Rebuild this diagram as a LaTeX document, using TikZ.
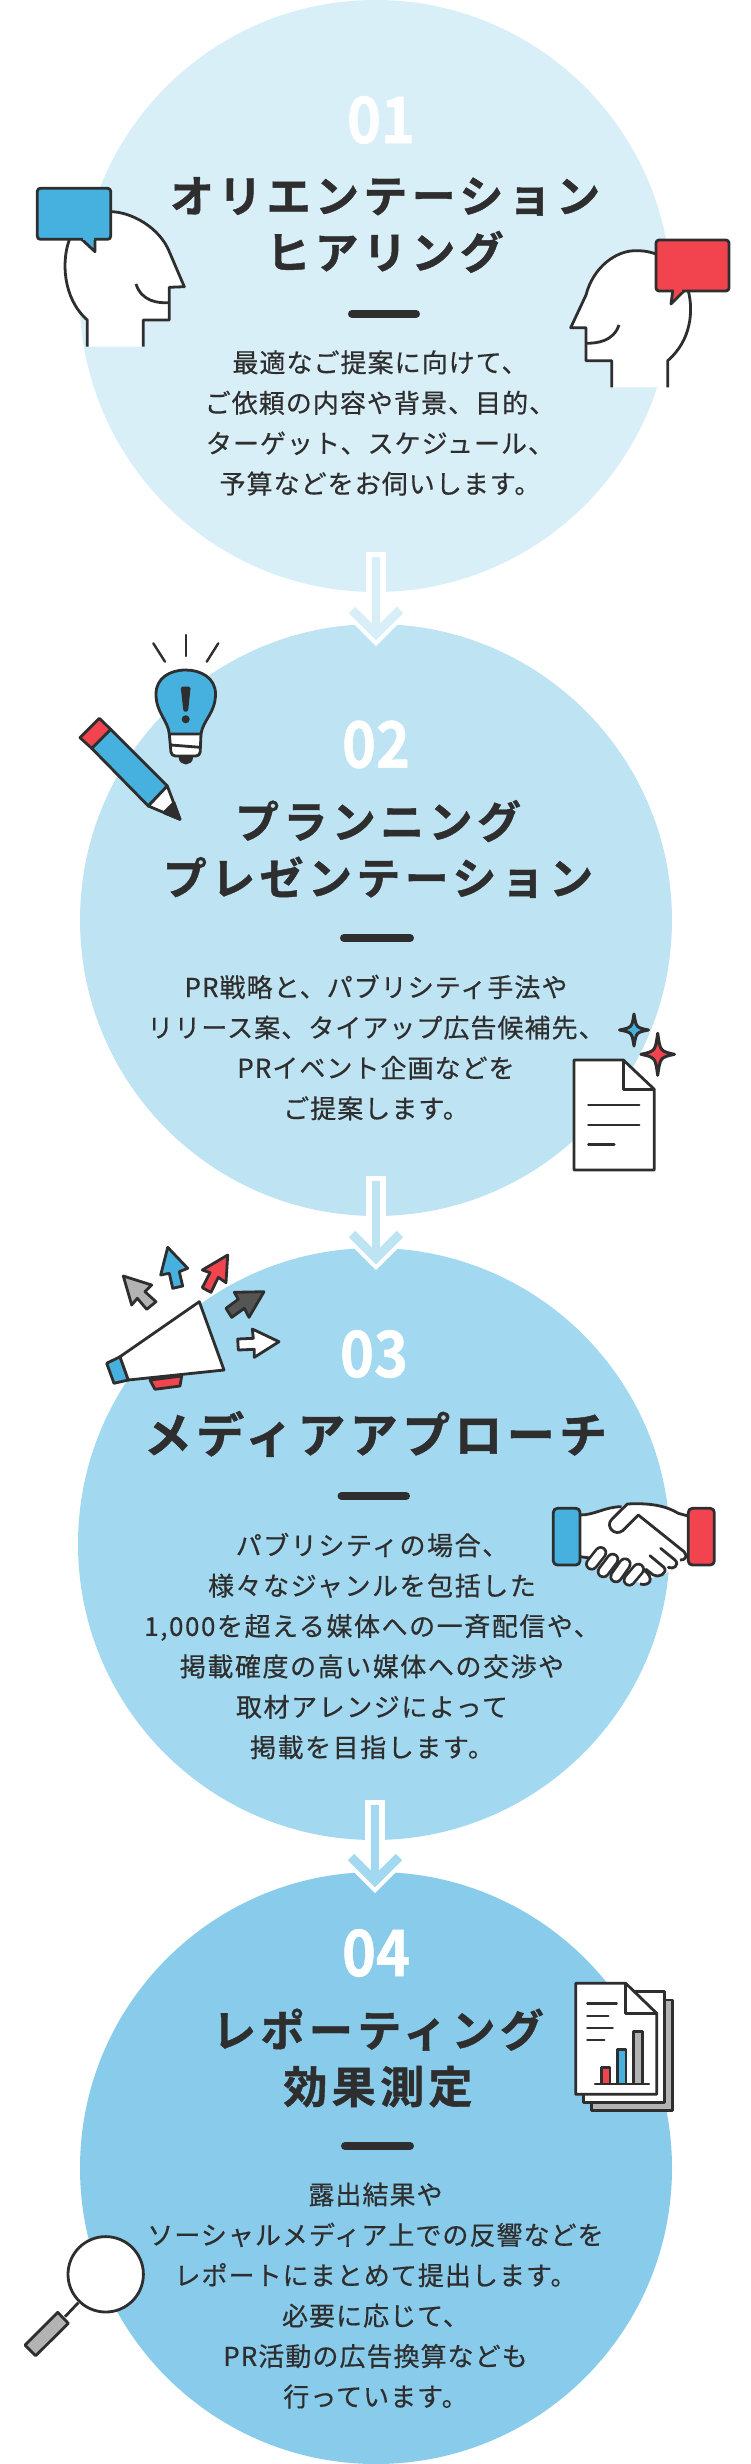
\documentclass[tikz,border=0pt]{standalone}
\usepackage{fontspec}
\setmainfont{Noto Sans CJK JP}
\newfontfamily\titlef[LetterSpace=10,FakeBold=1]{Noto Sans CJK JP Bold}
\newfontfamily\titlefb[LetterSpace=9,FakeBold=1]{Noto Sans CJK JP Bold}
\newfontfamily\bodyf[FakeBold=0.5,LetterSpace=4]{Noto Sans CJK JP}
\newfontfamily\bodyfb[FakeBold=0.5,LetterSpace=6]{Noto Sans CJK JP}
\newfontfamily\numf[FakeStretch=0.9,FakeBold=0.8]{Noto Sans CJK JP Bold}
\definecolor{ink}{HTML}{2E2E2E}
\definecolor{cA}{HTML}{D9EFF8}
\definecolor{cB}{HTML}{BEE3F3}
\definecolor{cC}{HTML}{A3D9F0}
\definecolor{cD}{HTML}{88CBEA}
\definecolor{blu}{HTML}{46B1DE}
\definecolor{rd}{HTML}{F1444F}
\definecolor{gry}{HTML}{B3B3B3}
\definecolor{dgr}{HTML}{555555}
\tikzset{
  x=1pt,y=-1pt,
  disc/.style={circle,minimum size=592pt,inner sep=0pt,outer sep=0pt},
  numtxt/.style={text=white,font=\numf\fontsize{64}{64}\selectfont,inner sep=0pt},
  titletxt/.style={text=ink,align=center,inner sep=0pt,font=\titlef\fontsize{44}{56.5}\selectfont},
  bodytxt/.style={text=ink,align=center,inner sep=0pt,font=\bodyf\fontsize{26}{40.4}\selectfont},
  barline/.style={line width=8pt,draw=ink,line cap=round},
  ln/.style={draw=ink,line width=2.8pt,line join=round,line cap=butt},
  thin/.style={draw=ink,line width=2.4pt,line cap=round},
}
\newcommand{\flowarrow}[4]{% colour, x, top, white tip
  \coordinate (a#1s) at (#2,#3);
  \coordinate (a#1v) at (#2,#4-12);
  \coordinate (a#1l) at ($(a#1v)+(-24,-24)$);
  \coordinate (a#1r) at ($(a#1v)+(24,-24)$);
  \draw[white,line width=20pt] (a#1s) -- (a#1v);
  \draw[white,line width=17pt,miter limit=5] (a#1l) -- (a#1v) -- (a#1r);
  \draw[#1,line width=8pt] ($(a#1s)+(0,5)$) -- (a#1v);
  \draw[#1,line width=9pt,miter limit=5] (a#1l) -- (a#1v) -- (a#1r);
}
\newcommand{\sparkle}[5]{% cx cy w h fill
  \draw[ln,fill=#5,line width=3pt] (#1,#2-#4) .. controls (#1+#3*.15,#2-#4*.15) .. (#1+#3,#2)
   .. controls (#1+#3*.15,#2+#4*.15) .. (#1,#2+#4)
   .. controls (#1-#3*.15,#2+#4*.15) .. (#1-#3,#2)
   .. controls (#1-#3*.15,#2-#4*.15) .. cycle;
}
\usetikzlibrary{calc}
\begin{document}
\begin{tikzpicture}
\useasboundingbox (0,0) rectangle (750,2464);
% circles
\node[disc,fill=cA] (c1) at (375.5,296) {};
\node[disc,fill=cB] (c2) at (376,920) {};
\node[disc,fill=cC] (c3) at (374,1544) {};
\node[disc,fill=cD] (c4) at (376,2168) {};
% flow arrows
\flowarrow{cA}{376}{552}{646}
\flowarrow{cB}{376}{1176}{1270}
\flowarrow{cC}{375}{1800}{1893}
% texts 1
\node[numtxt] (n1) at (381,120) {01};
\node[titletxt] (t1) at (385,225) {オリエンテーション\\ヒアリング};
\draw[barline] (352,314) -- (416,314);
\node[bodytxt] (b1) at (380,423) {最適なご提案に向けて、\\ご依頼の内容や背景、目的、\\ターゲット、スケジュール、\\予算などをお伺いします。};
% texts 2
\node[numtxt] (n2) at (376,744.5) {02};
\node[titletxt] (t2) at (378,849) {プランニング\\プレゼンテーション};
\draw[barline] (344,938) -- (410,938);
\node[bodytxt] (b2) at (376,1047.5) {PR戦略と、パブリシティ手法や\\リリース案、タイアップ広告候補先、\\PRイベント企画などを\\ご提案します。};
% texts 3
\node[numtxt] (n3) at (374,1354) {03};
\node[titletxt,font=\titlefb\fontsize{48}{56}\selectfont] (t3) at (375.5,1434) {メディアアプローチ};
\draw[barline] (341.5,1496) -- (406,1496);
\node[bodytxt,font=\bodyfb\fontsize{26}{40.4}\selectfont] (b3) at (372,1646) {パブリシティの場合、\\様々なジャンルを包括した\\1,000を超える媒体への一斉配信や、\\掲載確度の高い媒体への交渉や\\取材アレンジによって\\掲載を目指します。};
% texts 4
\node[numtxt] (n4) at (376,1953) {04};
\node[titletxt] (t4) at (378,2058) {レポーティング\\効果測定};
\draw[barline] (345,2146) -- (410,2146);
\node[bodytxt] (b4) at (375.5,2295.5) {露出結果や\\ソーシャルメディア上での反響などを\\レポートにまとめて提出します。\\必要に応じて、\\PR活動の広告換算なども\\行っています。};
% head 1
\fill[white] (110.7,211.7) .. controls (130,211.7) and (160,226.7) .. (170,253.3) -- (184.3,286.7) -- (169.3,287.3) -- (169.3,320) -- (143.3,320) -- (143.3,346.7) -- (87.3,346.7) -- (87.3,320) .. controls (62.3,298) and (61.7,260) .. (69.3,240) -- cycle;
\draw[ln] (110.7,211.7) .. controls (130,211.7) and (160,226.7) .. (170,253.3) -- (184.3,286.7) -- (169.3,287.3) -- (169.3,320) -- (143.3,320) -- (143.3,346.7);
\draw[ln] (87.3,346.7) -- (87.3,320) .. controls (62.3,298) and (61.7,260) .. (69.3,240);
\draw[ln] (136,284) .. controls (141.7,301.7) and (158.3,303.3) .. (169.3,302.7);
\draw[ln,fill=blu,rounded corners=3pt] (37.3,188.3) rectangle (110.7,239.3);
\draw[ln,fill=blu] (81.7,239.3) -- (95,251.7) -- (95,239.3);
\fill[blu] (83,237.5) rectangle (93.5,240.5);
% head 2
\fill[white] (656,254) .. controls (646.7,250.7) and (640,250.7) .. (636.7,250.7) .. controls (616.7,250) and (593.3,266.7) .. (586,295) -- (570.7,327.7) -- (586,327.7) -- (586,360.7) -- (611.7,360.7) -- (611.7,387.3) -- (667.7,387.3) -- (667.7,360.7) .. controls (691.7,340) and (693.3,310) .. (688.3,291) -- cycle;
\draw[ln] (656,254) .. controls (646.7,250.7) and (640,250.7) .. (636.7,250.7) .. controls (616.7,250) and (593.3,266.7) .. (586,295) -- (570.7,327.7) -- (586,327.7) -- (586,360.7) -- (611.7,360.7) -- (611.7,387.3);
\draw[ln] (667.7,387.3) -- (667.7,360.7) .. controls (691.7,340) and (693.3,310) .. (688.3,291);
\draw[ln] (619,325) .. controls (613.3,341.7) and (596.7,343.3) .. (586,343.3);
\draw[ln,fill=rd,rounded corners=3pt] (656,240) rectangle (729,291);
\draw[ln,fill=rd] (672.7,291) -- (671,304) -- (684,291);
\fill[rd] (674,289.5) rectangle (682,292);
% bulb
\draw[thin] (153.3,643.3) -- (165,661.7);
\draw[thin] (186,635) -- (186,656);
\draw[thin] (218.3,643.3) -- (206.7,661.7);
\draw[ln,fill=ink] (180,757) -- (191.7,757) .. controls (191.7,765) and (180,765) .. (180,757) -- cycle;
\draw[ln,fill=white,rounded corners=4pt] (169.3,734) -- (171.3,756) -- (200,756) -- (201,734);
\draw[ln] (171,745) -- (200,747.3);
\draw[ln,fill=blu] (169.3,734) .. controls (168,720) and (156,713) .. (156,694) .. controls (156,678) and (170,670) .. (185.7,670) .. controls (201,670) and (215.5,678) .. (215.5,694) .. controls (215.5,713) and (203,720) .. (201,734) -- cycle;
\fill[ink,rounded corners=1.5pt] (180.7,686.7) -- (190.7,686.7) -- (188,711.7) -- (183.5,711.7) -- cycle;
\fill[ink] (185.7,719.3) circle (4);
% pencil
\draw[ln,fill=blu] (110.7,729.3) -- (167.3,786) -- (148.3,806) -- (91.7,748.3) -- cycle;
\draw[ln,fill=rd] (99.3,718.3) -- (110.7,729.3) -- (91.7,748.3) -- (80,737.7) -- cycle;
\draw[ln,fill=white] (167.3,786) -- (180,819.3) -- (148.3,806) -- cycle;
\draw[ln,fill=ink] (174,802.7) -- (180,819.3) -- (164,812.7) -- cycle;
% document
\draw[ln,fill=white] (574,1060) -- (623.3,1060) -- (654.3,1089.3) -- (654.3,1170) -- (574,1170) -- cycle;
\draw[ln] (623.3,1060) -- (623.3,1089.3) -- (654.3,1089.3);
\draw[thin] (588.3,1105) -- (639.3,1105);
\draw[thin] (588.3,1125) -- (639.3,1125);
\draw[thin] (588.3,1144.3) -- (614.3,1144.3);
\sparkle{634}{1030}{14.5}{16}{blu}
\sparkle{657.7}{1054.3}{16.7}{21}{rd}
% megaphone
\draw[ln,fill=rd] (150,1380) -- (155,1389.3) -- (180,1386) -- (181.7,1376) -- cycle;
\draw[ln,fill=blu] (106.7,1363.3) -- (120,1356.7) -- (128.3,1380) -- (114,1383.3) -- cycle;
\draw[ln,fill=white] (199.3,1301.7) -- (224,1370) -- (128.3,1380) -- (120,1356.7) -- cycle;
\draw[ln,fill=gry] (123.3,1276) -- (151.7,1285) -- (145,1291.7) -- (156,1301.7) -- (146.7,1309.3) -- (137.3,1298.3) -- (131.7,1305) -- cycle;
\draw[ln,fill=blu] (167.7,1247.3) -- (187.7,1268.3) -- (179.3,1271.7) -- (182.7,1286) -- (172.7,1288.3) -- (169.3,1273.3) -- (160.7,1275) -- cycle;
\draw[ln,fill=rd] (227.7,1255) -- (226,1282.7) -- (218.3,1277.3) -- (211,1292.3) -- (202.3,1287.7) -- (210,1272.7) -- (202.3,1270) -- cycle;
\draw[ln,fill=dgr] (264,1291.7) -- (249,1317.3) -- (244.3,1308.3) -- (231.7,1317.3) -- (226,1308.3) -- (238.3,1299.3) -- (234.3,1292.3) -- cycle;
\draw[ln,fill=white] (279,1341.7) -- (254.3,1357.3) -- (254.3,1349.3) -- (238.3,1350) -- (237.7,1339) -- (253.3,1338.3) -- (252.3,1329) -- cycle;
% handshake
\begin{scope}[shift={(540,1490)},x=0.3333pt,y=-0.3333pt,line cap=round]
\fill[white] (120,75) .. controls (165,75) and (195,50) .. (245,50) -- (262,42) .. controls (330,38) and (380,48) .. (415,70) -- (445,78) -- (445,205) -- (405,232) -- (375,252) -- (340,262) -- (300,280) -- (150,205) -- (120,200) -- cycle;
\draw[ln] (120,75) .. controls (165,75) and (195,50) .. (245,50);
\draw[ln] (215,88) -- (262,42) .. controls (330,38) and (380,48) .. (415,70) -- (445,78);
\draw[ln] (215,88) .. controls (195,110) and (225,140) .. (248,122) -- (295,75) -- (432,185) .. controls (445,198) and (435,212) .. (420,210);
\draw[ln] (120,200) -- (150,204);
\draw[ln,line cap=round] (362,175) -- (405,210) .. controls (420,225) and (400,240) .. (385,232);
\draw[ln,line cap=round] (330,197) -- (372,232) .. controls (385,250) and (355,265) .. (340,255) -- (318,238);
\draw[ln,fill=white] (312,240) .. controls (345,265) and (330,290) .. (300,282);
\foreach \xa/\ya/\xb/\yb in {182/188/155/222,218/208/190/245,255/222/228/260,295/238/268/270}{
  \draw[ink,line width=13.2pt,line cap=round] (\xa,\ya) -- (\xb,\yb);
  \draw[white,line width=7.8pt,line cap=round] (\xa,\ya) -- (\xb,\yb);
}
\draw[ln,fill=blu,rounded corners=4pt] (40,55) rectangle (120,225);
\draw[ln,fill=rd,rounded corners=4pt] (445,55) rectangle (523,225);
\end{scope}
% report
\draw[ln,fill=gry] (591.7,2000) rectangle (672.3,2110.7);
\draw[ln,fill=white] (583.3,1991.7) rectangle (664.3,2102.3);
\draw[ln,fill=white] (575.7,1983.3) -- (625.7,1983.3) -- (656.7,2013.3) -- (656.7,2094.3) -- (575.7,2094.3) -- cycle;
\draw[ln] (625.7,1983.3) -- (625.7,2013.3) -- (656.7,2013.3);
\draw[thin] (587.3,2003.3) -- (616.7,2003.3);
\draw[thin] (587.3,2015.7) -- (608.3,2015.7);
\draw[thin] (587.3,2027.7) -- (612.7,2027.7);
\draw[thin] (587.3,2040) -- (604.3,2040);
\draw[ln,fill=rd] (601.7,2084) rectangle (610,2067.7);
\draw[ln,fill=blu] (617.3,2084) rectangle (626,2049.3);
\draw[ln,fill=gry] (633.3,2084) rectangle (642.3,2031.7);
\draw[thin] (595,2084) -- (649,2084);
% magnifier
\draw[ln] (78.3,2302.7) -- (65,2316.7);
\draw[ln,fill=gry] (57.7,2312.3) -- (68.3,2323.3) -- (35.7,2355.7) -- (25,2345) -- cycle;
\draw[ln,fill=white] (105.7,2274.3) circle (37.7);
\end{tikzpicture}
\end{document}
